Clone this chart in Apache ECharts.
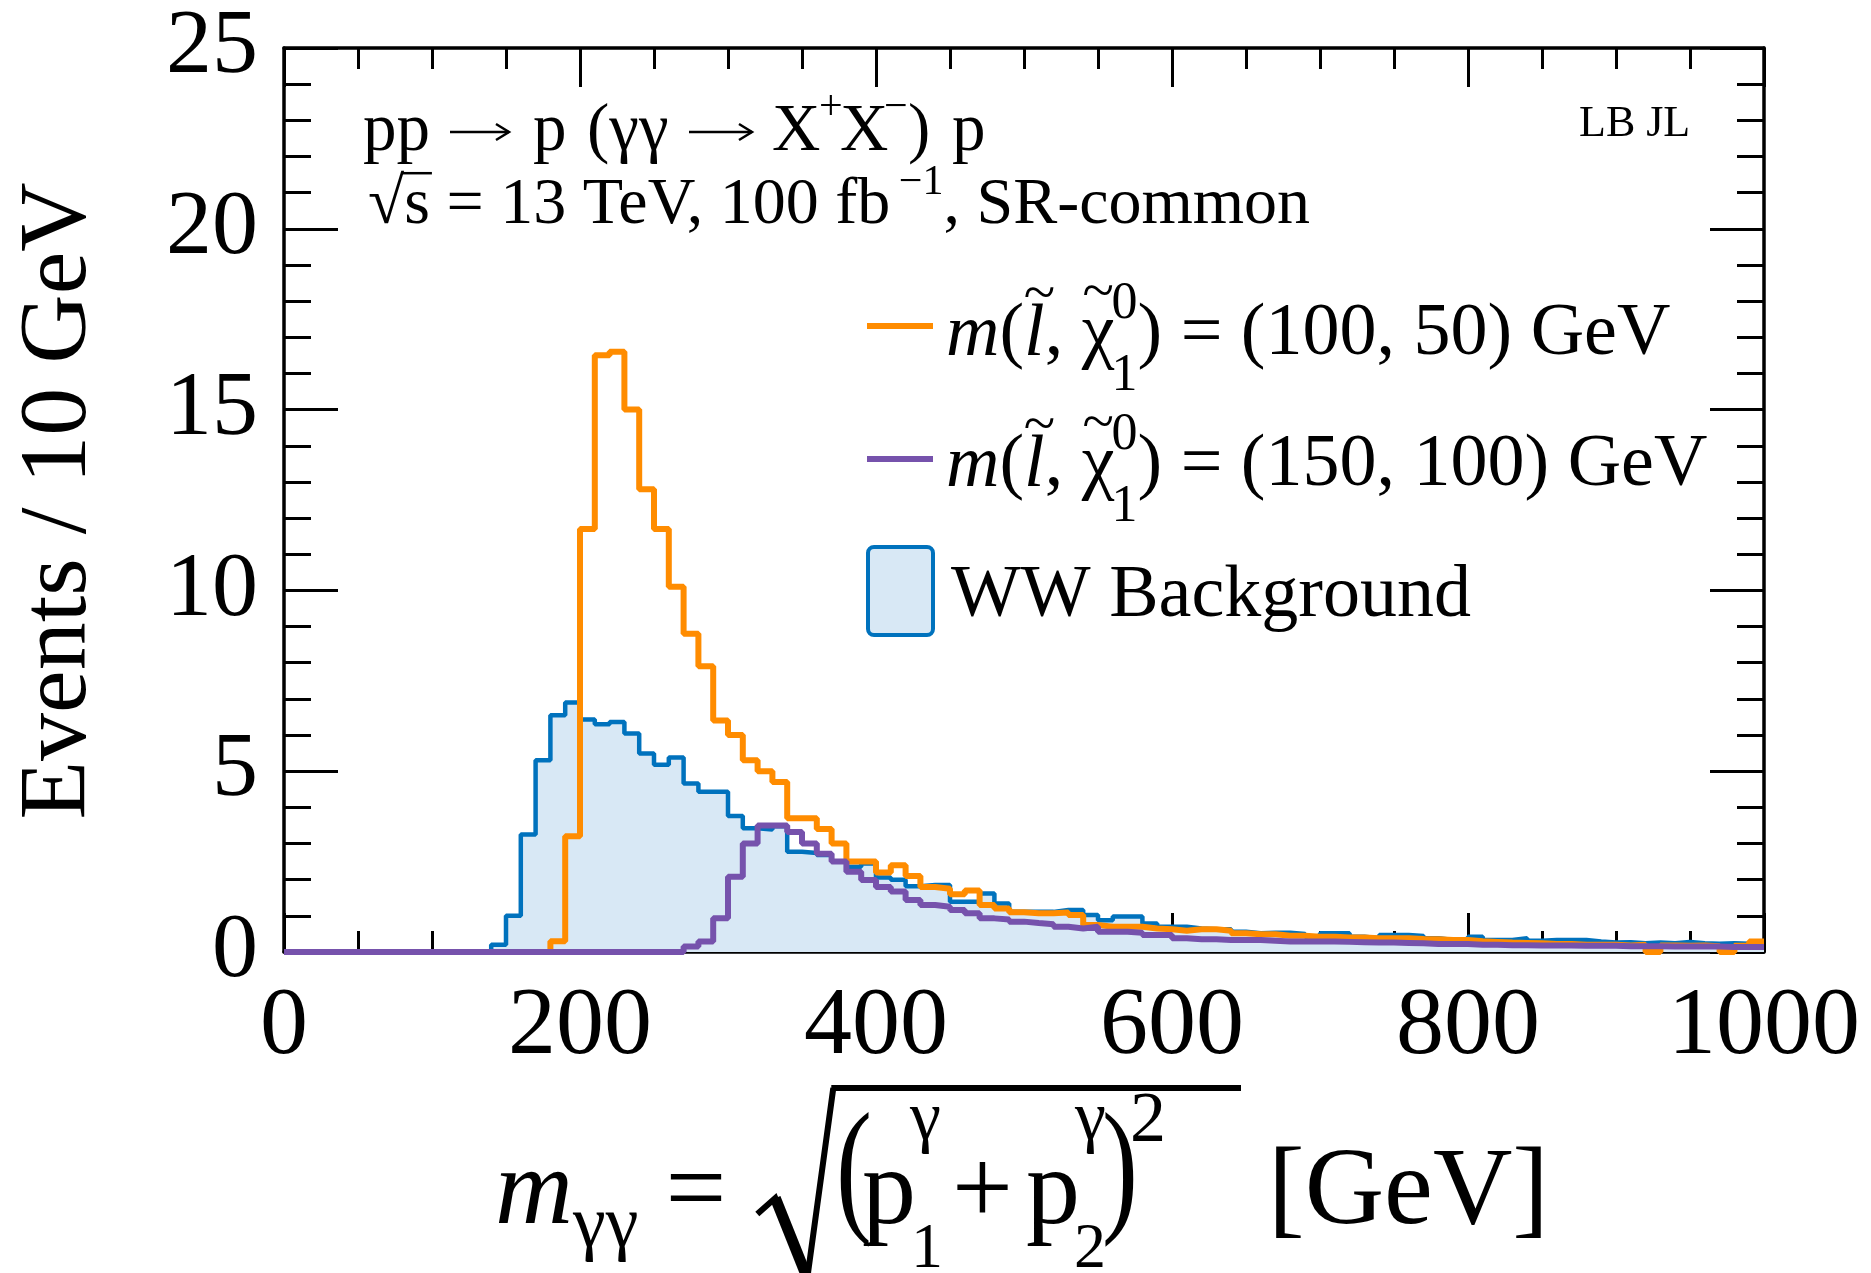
<!DOCTYPE html>
<html>
<head>
<meta charset="utf-8">
<script src="https://cdn.jsdelivr.net/npm/echarts@6/dist/echarts.min.js"></script>
<style>
html, body { margin: 0; padding: 0; background: #fff; }
#main { width: 1871px; height: 1273px; }
</style>
</head>
<body>
<div id="main"></div>
<script>
// lower edges of the 10 GeV bins
var binLow = [0, 10, 20, 30, 40, 50, 60, 70, 80, 90,
    100, 110, 120, 130, 140, 150, 160, 170, 180, 190,
    200, 210, 220, 230, 240, 250, 260, 270, 280, 290,
    300, 310, 320, 330, 340, 350, 360, 370, 380, 390,
    400, 410, 420, 430, 440, 450, 460, 470, 480, 490,
    500, 510, 520, 530, 540, 550, 560, 570, 580, 590,
    600, 610, 620, 630, 640, 650, 660, 670, 680, 690,
    700, 710, 720, 730, 740, 750, 760, 770, 780, 790,
    800, 810, 820, 830, 840, 850, 860, 870, 880, 890,
    900, 910, 920, 930, 940, 950, 960, 970, 980, 990];
var binHigh = 1000;

// WW background
var wwBkg = [0, 0, 0, 0, 0, 0, 0, 0, 0, 0,
    0, 0, 0, 0, 0.2, 1.0, 3.25, 5.3, 6.55, 6.9,
    6.43, 6.3, 6.36, 6.04, 5.49, 5.18, 5.38, 4.66, 4.43, 4.43,
    3.76, 3.42, 3.39, 3.48, 2.77, 2.74, 2.68, 2.5, 2.36, 2.45,
    2.06, 2.0, 1.82, 1.85, 1.85, 1.39, 1.39, 1.62, 1.34, 1.11,
    1.11, 1.11, 1.16, 1.16, 1.02, 0.88, 0.98, 0.98, 0.79, 0.7,
    0.7, 0.65, 0.63, 0.63, 0.56, 0.52, 0.53, 0.53, 0.5, 0.42,
    0.52, 0.52, 0.42, 0.38, 0.47, 0.47, 0.44, 0.38, 0.33, 0.35,
    0.42, 0.33, 0.33, 0.38, 0.31, 0.33, 0.33, 0.33, 0.29, 0.26,
    0.27, 0.24, 0.26, 0.24, 0.28, 0.24, 0.23, 0.24, 0.23, 0.24];

// m(slepton, neutralino) = (100, 50) GeV
var sig100 = [0, 0, 0, 0, 0, 0, 0, 0, 0, 0,
    0, 0, 0, 0, 0, 0, 0, 0, 0.3, 3.2,
    11.7, 16.5, 16.6, 15.0, 12.8, 11.7, 10.1, 8.8, 7.9, 6.4,
    6.0, 5.3, 5.0, 4.7, 3.7, 3.7, 3.4, 3.0, 2.5, 2.5,
    2.2, 2.4, 2.1, 1.8, 1.75, 1.6, 1.7, 1.3, 1.2, 1.1,
    1.07, 1.07, 1.09, 1.02, 0.75, 0.7, 0.7, 0.7, 0.65, 0.63,
    0.59, 0.63, 0.63, 0.59, 0.52, 0.49, 0.49, 0.45, 0.45, 0.42,
    0.42, 0.4, 0.4, 0.38, 0.38, 0.38, 0.36, 0.35, 0.33, 0.33,
    0.3, 0.28, 0.26, 0.25, 0.24, 0.22, 0.22, 0.2, 0.2, 0.2,
    0.18, 0.2, 0, 0.18, 0.17, 0.18, 0.16, 0, 0.17, 0.29];

// m(slepton, neutralino) = (150, 100) GeV
var sig150 = [0, 0, 0, 0, 0, 0, 0, 0, 0, 0,
    0, 0, 0, 0, 0, 0, 0, 0, 0, 0,
    0, 0, 0, 0, 0, 0, 0, 0.15, 0.29, 0.93,
    2.08, 3.0, 3.5, 3.5, 3.32, 3.0, 2.72, 2.5, 2.22, 1.99,
    1.8, 1.67, 1.44, 1.3, 1.25, 1.16, 1.07, 0.93, 0.9, 0.84,
    0.8, 0.77, 0.7, 0.65, 0.7, 0.56, 0.56, 0.53, 0.47, 0.47,
    0.38, 0.35, 0.35, 0.33, 0.33, 0.33, 0.31, 0.29, 0.29, 0.29,
    0.29, 0.28, 0.27, 0.26, 0.26, 0.25, 0.24, 0.22, 0.22, 0.22,
    0.2, 0.2, 0.19, 0.19, 0.18, 0.18, 0.18, 0.17, 0.17, 0.17,
    0.16, 0.16, 0.16, 0.15, 0.15, 0.15, 0.15, 0.14, 0.14, 0.14];

var xTicks = [0, 200, 400, 600, 800, 1000];
var yTicks = [0, 5, 10, 15, 20, 25];

var cOrange = '#ff8c00', cPurple = '#7652ac', cBlue = '#0072bd', cFill = '#d8e8f5';

// histogram as step points: [lowEdge, value] ... plus closing point at the last edge
function histPoints(vals) {
    var pts = [];
    for (var i = 0; i < vals.length; i++) pts.push([binLow[i], vals[i]]);
    pts.push([binHigh, vals[vals.length - 1]]);
    return pts;
}

// text helpers (baseline positioning)
var SERIF = '"Liberation Serif", "Times New Roman", serif';
var ctx = document.createElement('canvas').getContext('2d');
function fontStr(size, it) { return (it ? 'italic ' : '') + size + 'px ' + SERIF; }
function tw(t, size, it) { ctx.font = fontStr(size, it); return ctx.measureText(t).width; }
function txt(t, x, base, size, it, align) {
    return {
        type: 'text', x: x, y: base - 0.31 * size, silent: true, z: 100,
        style: { text: t, font: fontStr(size, it), fill: '#000',
            textAlign: align || 'left', align: align || 'left',
            textVerticalAlign: 'middle', verticalAlign: 'middle' }
    };
}
function seg(x1, y1, x2, y2, w, color) {
    return { type: 'line', silent: true, z: 100,
        shape: { x1: x1, y1: y1, x2: x2, y2: y2 },
        style: { stroke: color || '#000', lineWidth: w } };
}
// tall thin parenthesis, centred on cy
function paren(t, x, cy, size, sy) {
    return { type: 'text', x: x, y: cy, scaleY: sy, silent: true, z: 100,
        style: { text: t, font: fontStr(size), fill: '#000', textAlign: 'left', align: 'left',
            textVerticalAlign: 'middle', verticalAlign: 'middle' } };
}

var g = [];
function arrow(x1, x2, y) {
    g.push(seg(x1, y, x2, y, 2.5));
    g.push({ type: 'polyline', silent: true, z: 100,
        shape: { points: [[x2 - 13, y - 8], [x2, y], [x2 - 13, y + 8]] },
        style: { stroke: '#000', lineWidth: 2.5, fill: null } });
}

// header
(function () {
    var s = 67, b = 153, ay = b - 21;
    g.push(txt('pp', 363, b, s));
    arrow(450, 509, ay);
    g.push(txt('p', 533, b, s));
    g.push(txt('(\u03b3\u03b3', 587, b, s));
    arrow(689, 752, ay);
    g.push(txt('X', 772, b, s));
    g.push(txt('+', 819, b - 32, 42));
    g.push(txt('X', 840, b, s));
    g.push(txt('\u2212', 884, b - 32, 42));
    g.push(txt(')', 908, b, s));
    g.push(txt('p', 952, b, s));

    s = 66; var x = 368; b = 226;
    g.push(txt('\u221a', x, b, s)); x += tw('\u221a', s);
    g.push(seg(x - 2, b - 0.8 * s, x + tw('s', s) + 2, b - 0.8 * s, 2.5));
    var t2 = 's = 13 TeV, 100 fb ';
    g.push(txt(t2, x, b, s)); x += tw(t2, s);
    g.push(txt('\u22121', x - 8, b - 30, 42)); x += tw('\u22121', 42) - 8;
    g.push(txt(', SR-common', x, b, s));

    g.push(txt('LB JL', 1579, 138, 44));
})();

// legend
function legendLabel(x, b, rest) {
    var s = 74, ss = 52;
    g.push(txt('m', x, b, s, true)); x += tw('m', s, true);
    g.push(txt('(', x, b, s)); x += tw('(', s);
    var wl = tw('l', s, true);
    g.push(txt('l', x, b, s, true));
    g.push(txt('~', x + wl / 2 + 5, b - 0.6 * s, 58, false, 'center'));
    x += wl;
    g.push(txt(', ', x, b, s)); x += tw(', ', s);
    var wc = tw('\u03c7', s);
    g.push(txt('\u03c7', x, b, s));
    g.push(txt('~', x + wc / 2, b - 0.62 * s, 58, false, 'center'));
    x += wc - 3;
    g.push(txt('0', x, b - 38, ss)); g.push(txt('1', x, b + 34, ss));
    x += tw('0', ss);
    g.push(txt(') = ' + rest, x, b, s));
}
g.push(seg(867, 326, 933, 326, 6, cOrange));
legendLabel(946, 358, '(100, 50) GeV');
g.push(seg(867, 459, 933, 459, 6, cPurple));
legendLabel(946, 489, '(150, 100) GeV');
g.push({ type: 'rect', silent: true, z: 100,
    shape: { x: 868, y: 547, width: 65, height: 88, r: 6 },
    style: { fill: cFill, stroke: cBlue, lineWidth: 4 } });
g.push(txt('WW Background', 951, 620, 74));

// y axis title
g.push({ type: 'text', x: 60, y: 501, rotation: Math.PI / 2, silent: true, z: 100,
    style: { text: 'Events / 10 GeV', font: fontStr(96), fill: '#000',
        textAlign: 'center', align: 'center', textVerticalAlign: 'middle', verticalAlign: 'middle' } });

// x axis title: m_yy = sqrt((p1 + p2)^2) [GeV]
(function () {
    var b = 1228, s = 108, x = 495;
    g.push(txt('m', x, b, s, true)); x += tw('m', s, true);
    g.push(txt('\u03b3\u03b3', x, b + 22, 74)); x += tw('\u03b3\u03b3', 74);
    g.push(txt(' = ', x, b, s)); x += tw(' = ', s) + 4;
    var xr = x;
    g.push({ type: 'polyline', silent: true, z: 100,
        shape: { points: [[xr, b - 14], [xr + 18, b - 30], [xr + 50, b + 50], [xr + 76, b - 140]] },
        style: { stroke: '#000', lineWidth: 6, fill: null, lineJoin: 'miter' } });
    g.push(seg(xr + 18, b - 30, xr + 50, b + 50, 11));
    var ov = b - 140;
    // pieces under the radical
    g.push(paren('(', 836, 1176, 108, 1.38));
    g.push(txt('p', 862, b, s));
    g.push(txt('\u03b3', 910, b - 86, 70)); g.push(txt('1', 911, b + 42, 64));
    g.push(txt('+', 952, b, s));
    g.push(txt('p', 1026, b, s));
    g.push(txt('\u03b3', 1075, b - 86, 70)); g.push(txt('2', 1074, b + 42, 64));
    g.push(paren(')', 1102, 1176, 108, 1.38));
    g.push(txt('2', 1130, b - 84, 72));
    g.push(seg(xr + 74, ov, 1241, ov, 6));
    g.push(txt('[GeV]', 1268, b, 110));
})();

var chart = echarts.init(document.getElementById('main'), null, { renderer: 'canvas' });

var tickStyle = { color: '#000', width: 3 };
function xAxisDef(pos, labels) {
    return {
        type: 'value', position: pos, min: xTicks[0], max: xTicks[xTicks.length - 1],
        interval: xTicks[1] - xTicks[0],
        axisLine: { show: true, onZero: false, lineStyle: { color: '#000', width: 3.5 } },
        axisTick: { show: true, inside: true, length: 39, lineStyle: tickStyle },
        minorTick: { show: true, splitNumber: 4, length: 21, lineStyle: tickStyle },
        splitLine: { show: false },
        axisLabel: { show: labels, margin: 28, color: '#000', fontFamily: 'Liberation Serif', fontSize: 96,
            formatter: function (v) { return String(v); } }
    };
}
function yAxisDef(pos, labels) {
    return {
        type: 'value', position: pos, min: yTicks[0], max: yTicks[yTicks.length - 1],
        interval: yTicks[1] - yTicks[0],
        axisLine: { show: true, onZero: false, lineStyle: { color: '#000', width: 3.5 } },
        axisTick: { show: true, inside: true, length: 54, lineStyle: tickStyle },
        minorTick: { show: true, splitNumber: 5, length: 27, lineStyle: tickStyle },
        splitLine: { show: false },
        axisLabel: { show: labels, margin: 26, color: '#000', fontFamily: 'Liberation Serif', fontSize: 92,
            padding: [8, 0, 0, 0],
            formatter: function (v) { return String(v); } }
    };
}

var option = {
    backgroundColor: '#fff',
    animation: false,
    grid: { left: 284, right: 107, top: 48, bottom: 321 },
    xAxis: [xAxisDef('bottom', true), xAxisDef('top', false)],
    yAxis: [yAxisDef('left', true), yAxisDef('right', false)],
    series: [
        {
            name: 'WW Background', type: 'line', step: 'end', symbol: 'none',
            data: histPoints(wwBkg),
            lineStyle: { color: cBlue, width: 4.5 },
            areaStyle: { color: cFill, opacity: 1 },
            z: 2
        },
        {
            name: 'sig100', type: 'line', step: 'end', symbol: 'none',
            data: histPoints(sig100),
            lineStyle: { color: cOrange, width: 6 },
            z: 3
        },
        {
            name: 'sig150', type: 'line', step: 'end', symbol: 'none',
            data: histPoints(sig150),
            lineStyle: { color: cPurple, width: 6 },
            z: 4
        }
    ],
    graphic: { elements: g }
};
chart.setOption(option);
</script>
</body>
</html>
